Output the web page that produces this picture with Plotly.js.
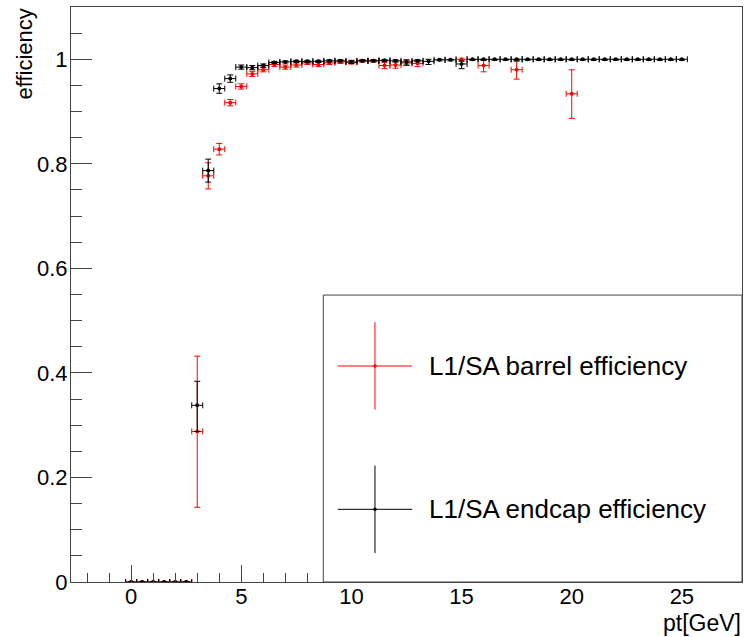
<!DOCTYPE html>
<html>
<head>
<meta charset="utf-8">
<script src="https://cdn.plot.ly/plotly-3.0.1.min.js"></script>
<style>html,body{margin:0;padding:0;background:#fff;}#chart{width:745px;height:637px;}</style>
</head>
<body>
<div id="chart"></div>
<script>
// ---- data ----
const binHalfWidth = 0.25;

const endcapPt = [0,0.5,1,1.5,2,2.5,3,3.5,4,4.5,5,5.5,6,6.5,7,7.5,8,8.5,9,9.5,10,10.5,11,11.5,12,12.5,13,13.5,14,14.5,15,15.5,16,16.5,17,17.5,18,18.5,19,19.5,20,20.5,21,21.5,22,22.5,23,23.5,24,24.5,25];
const endcapEff = [0,0,0,0,0,0,0.338,0.787,0.944,0.963,0.985,0.984,0.988,0.994,0.995,0.996,0.996,0.996,0.997,0.997,0.995,0.997,0.997,0.998,0.997,0.995,0.997,0.996,0.999,0.999,0.991,1,1,1,1,1,1,1,1,1,1,1,1,1,1,1,1,1,1,1,1];
const endcapErrUp = [0,0,0,0,0,0,0.046,0.022,0.009,0.007,0.004,0.004,0.003,0.002,0.002,0.002,0.002,0.002,0.002,0.002,0.003,0.002,0.002,0.001,0.002,0.004,0.002,0.004,0.001,0.001,0.006,0,0,0,0,0,0,0,0,0,0,0,0,0,0,0,0,0,0,0,0];
const endcapErrLow = [0,0,0,0,0,0,0.050,0.022,0.009,0.007,0.004,0.004,0.003,0.002,0.002,0.002,0.002,0.002,0.002,0.002,0.003,0.002,0.002,0.002,0.002,0.006,0.002,0.006,0.002,0.002,0.009,0.002,0.002,0.002,0.002,0.002,0.002,0.002,0.002,0.002,0.002,0.002,0.002,0.002,0.002,0.002,0.002,0.002,0.002,0.002,0.002];

const barrelPt = [0,0.5,1,1.5,2,2.5,3,3.5,4,4.5,5,5.5,6,6.5,7,7.5,8,8.5,9,9.5,10,10.5,11,11.5,12,12.5,13,15,16,17.5,20];
const barrelEff = [0,0,0,0,0,0,0.288,0.777,0.828,0.917,0.948,0.972,0.980,0.990,0.985,0.989,0.993,0.990,0.993,0.995,0.994,0.997,0.997,0.988,0.989,0.993,0.992,1,0.988,0.980,0.934];
const barrelErrUp = [0,0,0,0,0,0,0.144,0.025,0.011,0.006,0.005,0.005,0.004,0.004,0.004,0.004,0.003,0.004,0.003,0.003,0.003,0.002,0.002,0.006,0.006,0.005,0.006,0,0.010,0.016,0.046];
const barrelErrLow = [0,0,0,0,0,0,0.145,0.025,0.011,0.006,0.005,0.005,0.004,0.004,0.004,0.004,0.003,0.004,0.003,0.003,0.003,0.002,0.002,0.006,0.006,0.005,0.006,0.004,0.012,0.018,0.047];

const seriesNames = ["L1/SA barrel efficiency", "L1/SA endcap efficiency"];
const seriesColors = ["#ff0000", "#000000"];
const xTitle = "pt[GeV]";
const yTitle = "efficiency";

// ---- styling ----
const FONT = "Liberation Sans, Arial, Helvetica, sans-serif";
const frameColor = "#444444";
const xRange = [-2.73, 27.73];
const yRange = [0, 1.1];

function trace(x, y, up, low, color) {
  return {
    type: "scatter", mode: "markers", x: x, y: y,
    marker: {color: color, size: 4, symbol: "circle"},
    error_x: {type: "constant", value: binHalfWidth, color: color, thickness: 1, width: 3},
    error_y: {type: "data", symmetric: false, array: up, arrayminus: low, color: color, thickness: 1, width: 3},
    showlegend: false, hoverinfo: "x+y"
  };
}

const data = [
  trace(barrelPt, barrelEff, barrelErrUp, barrelErrLow, seriesColors[0]),
  trace(endcapPt, endcapEff, endcapErrUp, endcapErrLow, seriesColors[1]),
  // empty trace so the minor-tick overlay axes are drawn
  {type: "scatter", mode: "markers", x: [], y: [], xaxis: "x2", yaxis: "y2", showlegend: false, hoverinfo: "skip"}
];

// legend geometry (paper coordinates)
const legX0 = 0.376, legY1 = 0.499;
const crossX = 0.453, crossHalfW = 0.0555, crossHalfH = 0.076;
const entryY = [0.3757, 0.1264];
const textX = 0.531;

const shapes = [{
  type: "rect", xref: "paper", yref: "paper", x0: legX0, x1: 1, y0: 0, y1: legY1,
  line: {color: frameColor, width: 1}, fillcolor: "rgba(255,255,255,1)", layer: "above"
}];
const annotations = [];
entryY.forEach((yy, i) => {
  shapes.push({type: "line", xref: "paper", yref: "paper", x0: crossX - crossHalfW, x1: crossX + crossHalfW, y0: yy, y1: yy, line: {color: seriesColors[i], width: 1}});
  shapes.push({type: "line", xref: "paper", yref: "paper", x0: crossX, x1: crossX, y0: yy - crossHalfH, y1: yy + crossHalfH, line: {color: seriesColors[i], width: 1}});
  shapes.push({type: "circle", xref: "paper", yref: "paper", xsizemode: "pixel", ysizemode: "pixel", xanchor: crossX, yanchor: yy, x0: -1.8, x1: 1.8, y0: -1.8, y1: 1.8, fillcolor: seriesColors[i], line: {width: 0}});
  annotations.push({xref: "paper", yref: "paper", x: textX, y: yy, xanchor: "left", yanchor: "middle", text: seriesNames[i], showarrow: false, font: {family: FONT, size: 26, color: "#000"}});
});
annotations.push({xref: "paper", yref: "paper", x: -0.070, y: 0.9174, xanchor: "center", yanchor: "middle", textangle: -90, text: yTitle, showarrow: false, font: {family: FONT, size: 22, color: "#000"}});
annotations.push({xref: "paper", yref: "paper", x: 0.9404, y: -0.0713, xanchor: "center", yanchor: "middle", text: xTitle, showarrow: false, font: {family: FONT, size: 23, color: "#000"}});

const layout = {
  width: 745, height: 637,
  margin: {l: 71, r: 3, t: 7, b: 55, pad: 0},
  paper_bgcolor: "#fff", plot_bgcolor: "#fff",
  font: {family: FONT, size: 22, color: "#000"},
  xaxis: {
    range: xRange, tick0: 0, dtick: 5, ticks: "inside", ticklen: 17, tickcolor: frameColor, tickwidth: 1,
    showline: true, mirror: true, linecolor: frameColor, linewidth: 1,
    showgrid: false, zeroline: false, tickfont: {family: FONT, size: 22, color: "#000"}, ticklabelstandoff: -5
  },
  yaxis: {
    range: yRange, tick0: 0, dtick: 0.2, ticks: "inside", ticklen: 21, tickcolor: frameColor, tickwidth: 1,
    showline: true, mirror: true, linecolor: frameColor, linewidth: 1,
    showgrid: false, zeroline: false, tickfont: {family: FONT, size: 22, color: "#000"}, ticklabelstandoff: -2
  },
  xaxis2: {
    overlaying: "x", anchor: "y", side: "bottom", range: xRange, tick0: 0, dtick: 1,
    ticks: "inside", ticklen: 9, tickcolor: frameColor, tickwidth: 1,
    showticklabels: false, showline: false, showgrid: false, zeroline: false
  },
  yaxis2: {
    overlaying: "y", anchor: "x", side: "left", range: yRange, tick0: 0, dtick: 0.05,
    ticks: "inside", ticklen: 11, tickcolor: frameColor, tickwidth: 1,
    showticklabels: false, showline: false, showgrid: false, zeroline: false
  },
  shapes: shapes,
  annotations: annotations,
  showlegend: false
};

Plotly.newPlot("chart", data, layout, {staticPlot: true, displayModeBar: false});
</script>
</body>
</html>
